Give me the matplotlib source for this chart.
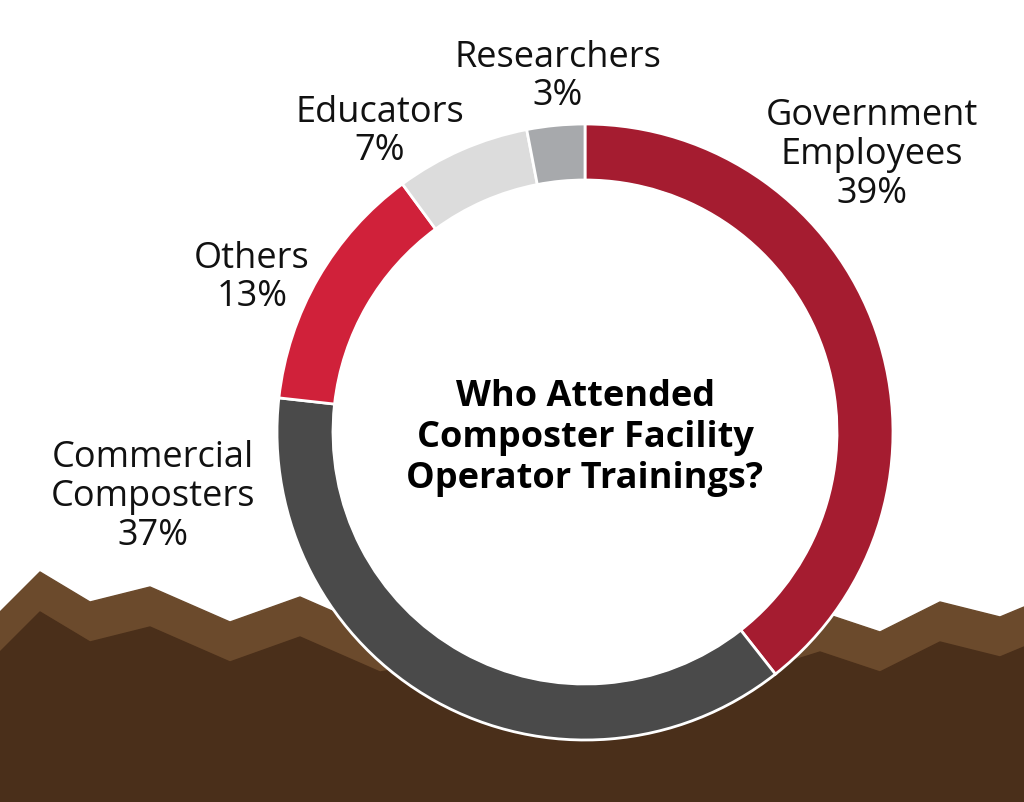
import matplotlib.pyplot as plt

labels = ["Government\nEmployees\n39%", "Commercial\nComposters\n37%", "Others\n13%",
          "Educators\n7%", "Researchers\n3%"]
shares = [39, 37, 13, 7, 3]
colors = ["#A51C30", "#4A4A4A", "#D0213A", "#DCDCDC", "#A7A9AC"]
title = "Who Attended\nComposter Facility\nOperator Trainings?"

W, H = 1024, 803
fig = plt.figure(figsize=(W / 100, H / 100), dpi=100)
ax = fig.add_axes([0, 0, 1, 1])

# rough compost ground at the bottom (decoration)
gx = [0, 40, 90, 150, 230, 300, 380, 470, 560, 650, 740, 820, 880, 940, 1000, 1024]
gy = [190, 230, 200, 215, 180, 205, 170, 185, 160, 175, 165, 190, 170, 200, 185, 195]
ax.fill_between(gx, 0, gy, color="#6b4a2c", zorder=0)
ax.fill_between(gx, 0, [g - 40 for g in gy], color="#4a2f1a", zorder=0)

cx, cy, r, w = 585, H - 433, 308, 56
ax.pie(shares, colors=colors, startangle=90, counterclock=False, center=(cx, cy),
       radius=r, frame=True, normalize=True,
       wedgeprops=dict(width=w, edgecolor="white", linewidth=2))
ax.add_patch(plt.Circle((cx, cy), r - w, color="white", zorder=1))
ax.set_xlim(0, W)
ax.set_ylim(0, H)
ax.set_aspect("equal")
ax.axis("off")

font = "Open Sans"
pos = [(872, H - 155), (153, H - 497), (252, H - 278), (380, H - 132), (558, H - 77)]
for (x, y), t in zip(pos, labels):
    ax.text(x, y, t, ha="center", va="center", fontsize=26, family=font,
            linespacing=1.1, color="#111111", zorder=3)

ax.text(cx, H - 438, title, ha="center", va="center", fontsize=26, family=font,
        fontweight="bold", linespacing=1.2, color="black", zorder=3)

fig.savefig("out.png", dpi=100)
